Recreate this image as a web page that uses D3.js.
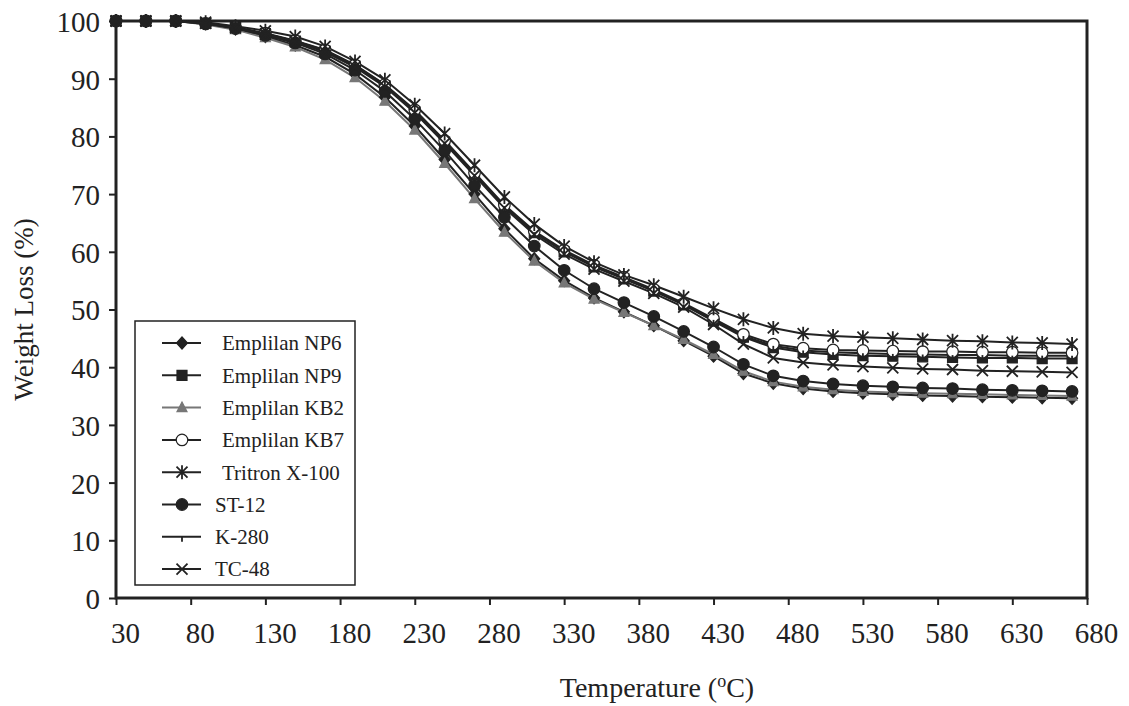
<!DOCTYPE html>
<html>
<head>
<meta charset="utf-8">
<script src="https://cdn.jsdelivr.net/npm/d3@7"></script>
<style>
  body { margin: 0; background: #fff; }
  text { font-family: 'Liberation Serif', 'Times New Roman', serif; fill: #222; }
</style>
</head>
<body>
<svg id="tga"></svg>
<script>
//temperatures of the measured points (oC)
let temps = [30, 50, 70, 90, 110, 130, 150, 170, 190, 210, 230, 250, 270, 290, 310, 330, 350, 370, 390, 410, 430, 450, 470, 490, 510, 530, 550, 570, 590, 610, 630, 650, 670]

//weight remaining (%) for each surfactant
let np6 = [100, 100, 100, 99.5, 98.6, 97.3, 95.8, 93.8, 90.8, 86.8, 81.8, 76.0, 70.0, 64.0, 58.8, 55.0, 52.0, 49.6, 47.2, 44.6, 41.9, 38.9, 37.2, 36.3, 35.8, 35.5, 35.3, 35.1, 35.0, 34.9, 34.8, 34.7, 34.6]
let np9 = [100, 100, 100, 99.6, 98.8, 97.8, 96.5, 94.8, 92.2, 88.8, 84.3, 79.0, 73.4, 67.8, 63.3, 60.0, 57.4, 55.3, 53.2, 50.8, 48.0, 45.2, 43.4, 42.6, 42.2, 42.0, 41.9, 41.8, 41.7, 41.6, 41.6, 41.5, 41.5]
let kb2 = [100, 100, 100, 99.4, 98.5, 97.1, 95.5, 93.3, 90.2, 86.1, 81.1, 75.3, 69.2, 63.4, 58.4, 54.6, 51.8, 49.5, 47.2, 44.8, 42.2, 39.3, 37.5, 36.6, 36.1, 35.8, 35.6, 35.5, 35.4, 35.3, 35.2, 35.1, 35.0]
let kb7 = [100, 100, 100, 99.6, 98.9, 97.9, 96.6, 95.0, 92.4, 89.0, 84.6, 79.3, 73.7, 68.1, 63.6, 60.3, 57.7, 55.6, 53.5, 51.1, 48.4, 45.7, 44.0, 43.3, 43.0, 42.9, 42.8, 42.7, 42.7, 42.6, 42.6, 42.5, 42.5]
let tritron = [100, 100, 100, 99.8, 99.1, 98.3, 97.3, 95.6, 93.0, 89.8, 85.5, 80.5, 75.0, 69.5, 64.8, 61.0, 58.2, 56.0, 54.2, 52.2, 50.2, 48.3, 46.8, 45.8, 45.4, 45.2, 45.0, 44.8, 44.6, 44.5, 44.3, 44.2, 44.0]
let st12 = [100, 100, 100, 99.5, 98.7, 97.5, 96.2, 94.3, 91.5, 87.8, 83.0, 77.5, 71.5, 66.0, 61.0, 56.8, 53.6, 51.2, 48.8, 46.2, 43.5, 40.5, 38.5, 37.6, 37.1, 36.8, 36.6, 36.4, 36.3, 36.1, 36.0, 35.9, 35.8]
let k280 = [100, 100, 100, 99.6, 98.8, 97.8, 96.5, 94.9, 92.3, 88.9, 84.4, 79.1, 73.5, 67.9, 63.4, 60.1, 57.5, 55.4, 53.3, 50.9, 48.2, 45.4, 43.7, 42.9, 42.6, 42.4, 42.3, 42.2, 42.1, 42.1, 42.0, 42.0, 42.0]
let tc48 = [100, 100, 100, 99.6, 98.8, 97.7, 96.4, 94.6, 92.0, 88.6, 84.1, 78.8, 73.2, 67.6, 63.0, 59.6, 57.0, 54.9, 52.8, 50.4, 47.4, 44.0, 41.6, 40.8, 40.4, 40.1, 39.9, 39.7, 39.6, 39.4, 39.3, 39.2, 39.1]

//legend names and tick values
let names = ['Emplilan NP6', 'Emplilan NP9', 'Emplilan KB2', 'Emplilan KB7', 'Tritron X-100', 'ST-12', 'K-280', 'TC-48']
let xTicks = [30, 80, 130, 180, 230, 280, 330, 380, 430, 480, 530, 580, 630, 680]
let yTicks = [0, 10, 20, 30, 40, 50, 60, 70, 80, 90, 100]

//series table for drawing
let series = [
  { name: names[0], values: np6, marker: 'diamond', color: '#222' },
  { name: names[1], values: np9, marker: 'square', color: '#222' },
  { name: names[2], values: kb2, marker: 'triangle', color: '#777' },
  { name: names[3], values: kb7, marker: 'opencircle', color: '#222' },
  { name: names[4], values: tritron, marker: 'star', color: '#222' },
  { name: names[5], values: st12, marker: 'circle', color: '#222' },
  { name: names[6], values: k280, marker: 'tick', color: '#222' },
  { name: names[7], values: tc48, marker: 'cross', color: '#222' }
]

let outerWidth = 1129
let outerHeight = 706
let plot = { left: 116, right: 1087, top: 21, bottom: 598 }

let svg = d3.select('svg#tga')
  .attr('width', outerWidth)
  .attr('height', outerHeight)

let xScale = d3.scaleLinear().domain([30, 680]).range([plot.left, plot.right])
let yScale = d3.scaleLinear().domain([0, 100]).range([plot.bottom, plot.top])

//marker shapes as path strings centred at 0,0
function markerPath(kind) {
  if (kind == 'diamond') return 'M0,-6L5.5,0L0,6L-5.5,0Z'
  if (kind == 'square') return 'M-5,-5H5V5H-5Z'
  if (kind == 'triangle') return 'M0,-5.5L5,4H-5Z'
  if (kind == 'circle' || kind == 'opencircle') return d3.symbol(d3.symbolCircle, 105)()
  if (kind == 'star') return 'M-5.5,-5.5L5.5,5.5M5.5,-5.5L-5.5,5.5M0,-7V7'
  if (kind == 'cross') return 'M-5.5,-5.5L5.5,5.5M5.5,-5.5L-5.5,5.5'
  if (kind == 'tick') return 'M0,0V5'
  return ''
}

function drawMarker(sel, s) {
  let open = s.marker == 'opencircle'
  let stroked = s.marker == 'star' || s.marker == 'cross' || s.marker == 'tick'
  sel.attr('d', markerPath(s.marker))
    .attr('fill', stroked ? 'none' : (open ? '#fff' : s.color))
    .attr('stroke', s.color)
    .attr('stroke-width', stroked ? 1.8 : 1.2)
}

//axes
let xAxis = d3.axisBottom(xScale).tickValues(xTicks).tickSize(7).tickFormat(d3.format('d'))
let yAxis = d3.axisLeft(yScale).tickValues(yTicks).tickSize(7).tickFormat(d3.format('d'))

let gx = svg.append('g')
  .attr('transform', 'translate(0,' + plot.bottom + ')')
  .call(xAxis)
gx.select('.domain').remove()
gx.selectAll('line').attr('stroke', '#222').attr('stroke-width', 2)
gx.selectAll('text')
  .attr('y', 24)
  .attr('dx', 9)
  .style('font-size', '29px')
  .style('font-family', "'Liberation Serif', serif")
  .attr('fill', '#222')

let gy = svg.append('g')
  .attr('transform', 'translate(' + plot.left + ',0)')
  .call(yAxis)
gy.select('.domain').remove()
gy.selectAll('line').attr('stroke', '#222').attr('stroke-width', 2)
gy.selectAll('text')
  .attr('x', -16)
  .attr('dy', '0.36em')
  .style('font-size', '29px')
  .style('font-family', "'Liberation Serif', serif")
  .attr('fill', '#222')

//plot frame
svg.append('rect')
  .attr('x', plot.left)
  .attr('y', plot.top)
  .attr('width', plot.right - plot.left)
  .attr('height', plot.bottom - plot.top)
  .attr('fill', 'none')
  .attr('stroke', '#222')
  .attr('stroke-width', 3)

//lines and markers
let line = d3.line()
  .x((d, i) => xScale(temps[i]))
  .y(d => yScale(d))

let gSeries = svg.append('g')
series.forEach(s => {
  gSeries.append('path')
    .datum(s.values)
    .attr('d', line)
    .attr('fill', 'none')
    .attr('stroke', s.color)
    .attr('stroke-width', 2)
})
series.forEach(s => {
  gSeries.selectAll(null)
    .data(s.values)
    .enter()
    .append('path')
    .attr('transform', (d, i) => 'translate(' + xScale(temps[i]) + ',' + yScale(d) + ')')
    .call(drawMarker, s)
})

//legend
let legend = svg.append('g')
legend.append('rect')
  .attr('x', 135)
  .attr('y', 321)
  .attr('width', 220)
  .attr('height', 264)
  .attr('fill', '#fff')
  .attr('stroke', '#222')
  .attr('stroke-width', 1.5)

let rows = legend.selectAll('g.row')
  .data(series)
  .enter()
  .append('g')
  .attr('class', 'row')
  .attr('transform', (d, i) => 'translate(0,' + (343 + i * 32.3) + ')')

rows.append('line')
  .attr('x1', 162)
  .attr('x2', 201)
  .attr('stroke', d => d.color)
  .attr('stroke-width', 2)
rows.append('path')
  .attr('transform', 'translate(182,0)')
  .each(function(d) { d3.select(this).call(drawMarker, d) })
rows.append('text')
  .attr('x', (d, i) => i < 5 ? 222 : 215)
  .attr('dy', '0.35em')
  .style('font-size', '21px')
  .text(d => d.name)

//axis titles
svg.append('text')
  .attr('x', 657)
  .attr('y', 697)
  .attr('text-anchor', 'middle')
  .style('font-size', '28px')
  .html('Temperature (<tspan font-size="18px" dy="-10">o</tspan><tspan dy="10">C)</tspan>')

svg.append('text')
  .attr('transform', 'translate(33,' + (plot.top + plot.bottom) / 2 + ') rotate(-90)')
  .attr('text-anchor', 'middle')
  .style('font-size', '27px')
  .text('Weight Loss (%)')
</script>
</body>
</html>
